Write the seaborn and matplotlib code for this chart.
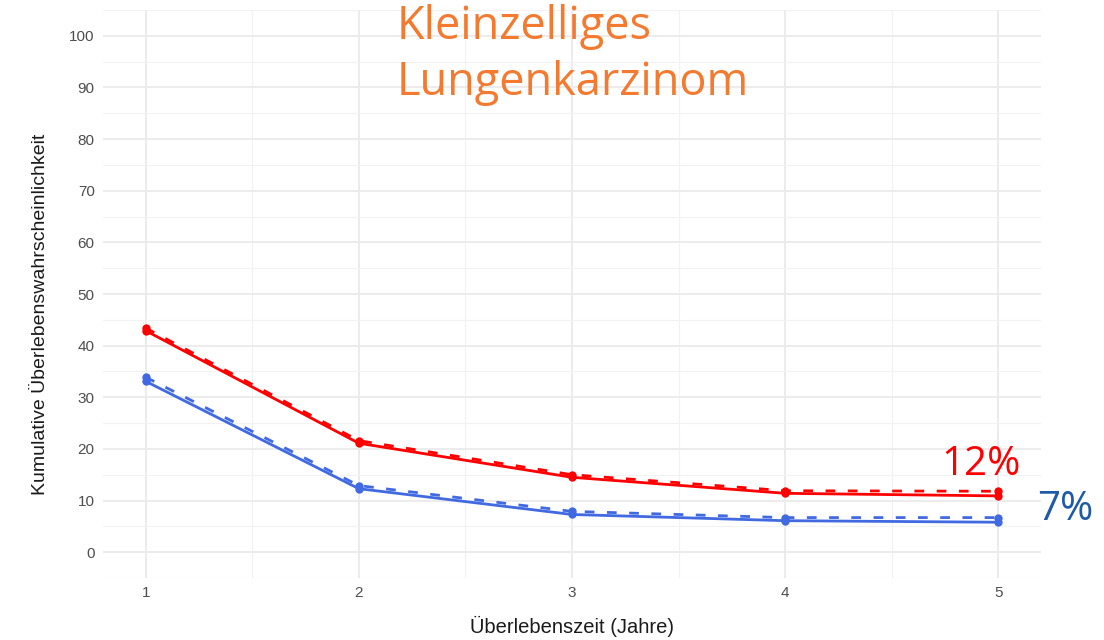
import numpy as np
import pandas as pd
import seaborn as sns
from matplotlib import pyplot as plt
from matplotlib.ticker import MultipleLocator

sns.set_theme(style='whitegrid')
plt.rcParams['font.family'] = ['Liberation Sans', 'DejaVu Sans']

jahre = [1, 2, 3, 4, 5]
rot_linie = [42.9, 21.1, 14.5, 11.4, 10.9]
rot_gestrichelt = [43.4, 21.6, 15.0, 11.9, 11.8]
blau_linie = [33.1, 12.3, 7.3, 6.1, 5.8]
blau_gestrichelt = [33.9, 12.9, 7.9, 6.7, 6.7]

ROT = '#FF0000'
BLAU = '#4169E1'

fig = plt.figure(figsize=(11.04, 6.4), dpi=100)
ax = fig.add_axes([103 / 1104, 1 - 578 / 640, (1041 - 103) / 1104, (578 - 10) / 640])

for werte, farbe, gestrichelt in [(rot_gestrichelt, ROT, True), (rot_linie, ROT, False),
                                  (blau_gestrichelt, BLAU, True), (blau_linie, BLAU, False)]:
    l = sns.lineplot(x=jahre, y=werte, ax=ax, color=farbe, linewidth=2,
                     marker='o', markersize=6, markeredgewidth=0)
    if gestrichelt:
        l.lines[-1].set_dashes((3.5, 4.5))

ax.set_xlim(0.8, 5.2)
ax.set_ylim(-5, 105)
ax.xaxis.set_major_locator(MultipleLocator(1))
ax.xaxis.set_minor_locator(MultipleLocator(0.5))
ax.yaxis.set_major_locator(MultipleLocator(10))
ax.yaxis.set_minor_locator(MultipleLocator(5))
ax.grid(which='major', color='#EBEBEB', linewidth=1.3)
ax.grid(which='minor', color='#F2F2F2', linewidth=0.8)
for s in ax.spines.values():
    s.set_visible(False)
ax.set_facecolor('white')
ax.tick_params(which='both', length=0, labelsize=11, labelcolor='#4D4D4D', pad=6)

ax.set_xlabel('Überlebenszeit (Jahre)', fontsize=14.5, color='#1A1A1A', labelpad=11)
ax.set_ylabel('Kumulative Überlebenswahrscheinlichkeit', fontsize=14, color='#1A1A1A')
ax.yaxis.set_label_coords(-0.058, 0.465)

fig.text(397 / 1104, 1 - 4 / 640, 'Kleinzelliges\nLungenkarzinom', ha='left', va='top',
         fontsize=32.5, color='#F37A2F', family=['Open Sans', 'DejaVu Sans'], linespacing=1.3)
fig.text(941 / 1104, 1 - 475 / 640, '12%', ha='left', va='baseline',
         fontsize=29, color=ROT, family=['Open Sans', 'DejaVu Sans'])
fig.text(1037 / 1104, 1 - 520 / 640, '7%', ha='left', va='baseline',
         fontsize=29, color='#1F5AA6', family=['Open Sans', 'DejaVu Sans'])

fig.savefig('out.png', dpi=100)
